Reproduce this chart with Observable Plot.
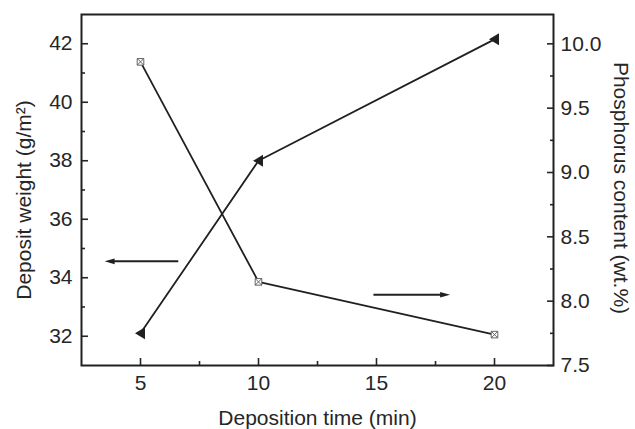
<!DOCTYPE html>
<html><head><meta charset="utf-8">
<script src="https://cdn.jsdelivr.net/npm/d3@7"></script>
<script src="https://cdn.jsdelivr.net/npm/@observablehq/plot@0.6"></script>
<style>body{margin:0;background:#fff}</style>
</head><body><div id="chart"></div>
<script>
const time = [5, 10, 20];
const depositWeight = [32.1, 38.0, 42.15];
const phosphorus = [9.86, 8.15, 7.74];
const xTicks = [5, 10, 15, 20];
const xMinor = [7.5, 12.5, 17.5];
const leftTicks = [32, 34, 36, 38, 40, 42];
const leftMinor = [33, 35, 37, 39, 41];
const rightTicks = [7.5, 8.0, 8.5, 9.0, 9.5, 10.0];
const rightMinor = [7.75, 8.25, 8.75, 9.25, 9.75];
const xDomain = [2.5, 22.5];
const leftDomain = [31, 43];
const rightDomain = [7.5, 10.228];
const xTitle = "Deposition time (min)";
const leftTitle = "Deposit weight (g/m²)";
const rightTitle = "Phosphorus content (wt.%)";
// annotation arrows pointing at each series' axis (values on that series' own axis)
const weightArrow = [{x1: 6.6, x2: 3.48, y: 34.56}];
const phosArrow = [{x1: 14.87, x2: 18.12, y: 8.05}];

const ink = "#231f20";
const k = (leftDomain[1] - leftDomain[0]) / (rightDomain[1] - rightDomain[0]);
const toLeft = p => leftDomain[0] + (p - rightDomain[0]) * k;
const fromLeft = v => rightDomain[0] + (v - leftDomain[0]) / k;

const weightData = time.map((t, i) => ({t, v: depositWeight[i]}));
const phosData = time.map((t, i) => ({t, v: toLeft(phosphorus[i])}));
const phosArrowL = phosArrow.map(a => ({...a, y: toLeft(a.y)}));

const triLeft = {draw(ctx) { ctx.moveTo(-5.5, 0); ctx.lineTo(4.5, -6); ctx.lineTo(4.5, 6); ctx.closePath(); }};
const boxX = {draw(ctx) {
  const s = 3.3;
  ctx.moveTo(-s, -s); ctx.lineTo(s, -s); ctx.lineTo(s, s); ctx.lineTo(-s, s); ctx.closePath();
  ctx.moveTo(-s, -s); ctx.lineTo(s, s); ctx.moveTo(s, -s); ctx.lineTo(-s, s);
}};
const headRight = {draw(ctx) { ctx.moveTo(0, 0); ctx.lineTo(-10, -2.8); ctx.lineTo(-10, 2.8); ctx.closePath(); }};
const headLeft = {draw(ctx) { ctx.moveTo(0, 0); ctx.lineTo(10, -2.8); ctx.lineTo(10, 2.8); ctx.closePath(); }};

const tickFont = 21;
const titleFont = 21;
const textColor = "#262626";
const chart = Plot.plot({
  width: 635, height: 429,
  marginLeft: 81, marginRight: 82, marginTop: 14, marginBottom: 64,
  style: {fontFamily: "'Liberation Sans', Arial, sans-serif", fontSize: "21px", color: textColor, background: "#fff"},
  x: {domain: xDomain},
  y: {domain: leftDomain},
  marks: [
    Plot.axisX(xTicks, {tickSize: -7, tickPadding: 17, strokeWidth: 1.6, fontSize: tickFont, label: null}),
    Plot.axisX(xMinor, {tickSize: -4, strokeWidth: 1.6, tickFormat: () => "", label: null}),
    Plot.axisY(leftTicks, {anchor: "left", tickSize: -7, tickPadding: 16, strokeWidth: 1.6, fontSize: tickFont, label: null}),
    Plot.axisY(leftMinor, {anchor: "left", tickSize: -4, strokeWidth: 1.6, tickFormat: () => "", label: null}),
    Plot.axisY(rightTicks.map(toLeft), {anchor: "right", tickSize: -7, tickPadding: 14, strokeWidth: 1.6, fontSize: tickFont, tickFormat: d => fromLeft(d).toFixed(1), label: null}),
    Plot.axisY(rightMinor.map(toLeft), {anchor: "right", tickSize: -4, strokeWidth: 1.6, tickFormat: () => "", label: null}),
    Plot.frame({stroke: ink, strokeWidth: 2}),
    Plot.line(weightData, {x: "t", y: "v", stroke: ink, strokeWidth: 1.8}),
    Plot.line(phosData, {x: "t", y: "v", stroke: ink, strokeWidth: 1.8}),
    Plot.dot(weightData, {x: "t", y: "v", symbol: triLeft, fill: ink, stroke: "none"}),
    Plot.dot(phosData, {x: "t", y: "v", symbol: boxX, fill: "#fff", stroke: "#555", strokeWidth: 0.9}),
    Plot.link(weightArrow, {x1: "x1", x2: d => d.x2 + 0.3, y1: "y", y2: "y", stroke: ink, strokeWidth: 2}),
    Plot.dot(weightArrow, {x: "x2", y: "y", symbol: headLeft, fill: ink, stroke: "none"}),
    Plot.link(phosArrowL, {x1: "x1", x2: d => d.x2 - 0.3, y1: "y", y2: "y", stroke: ink, strokeWidth: 2}),
    Plot.dot(phosArrowL, {x: "x2", y: "y", symbol: headRight, fill: ink, stroke: "none"}),
    Plot.text([xTitle], {text: d => d, frameAnchor: "bottom", dy: 53, textAnchor: "middle", lineAnchor: "middle", fontSize: titleFont, fill: textColor}),
    Plot.text([leftTitle], {text: d => d, frameAnchor: "left", dx: -57, dy: 10, rotate: -90, textAnchor: "middle", lineAnchor: "middle", fontSize: titleFont, fill: textColor}),
    Plot.text([rightTitle], {text: d => d, frameAnchor: "right", dx: 67, dy: -2, rotate: 90, textAnchor: "middle", lineAnchor: "middle", fontSize: titleFont, fill: textColor})
  ]
});
document.getElementById("chart").append(chart);
</script>
</body></html>
